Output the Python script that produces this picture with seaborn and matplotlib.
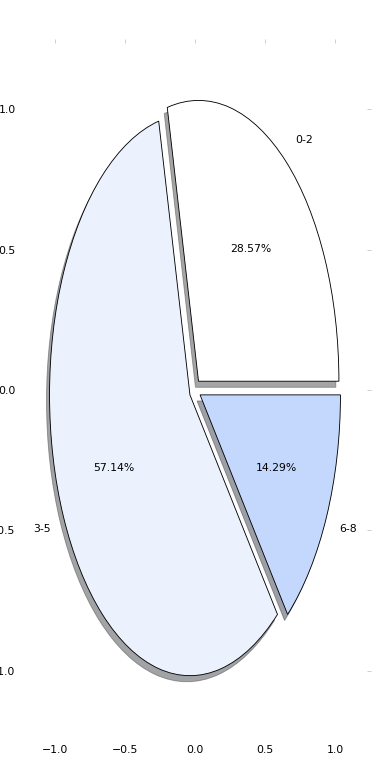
import numpy as np
import pandas as pd
import seaborn as sns
import matplotlib.pyplot as plt

# Données
groupes = ['0-2', '3-5', '6-8']
effectifs = [2, 4, 1]
couleurs = ['#ffffff', '#ebf1fd', '#c4d8fe']
ecarts = [0.04, 0.04, 0.04]

df = pd.DataFrame({'Groupe': groupes, 'Effectif': effectifs})

# %%
sns.set_style('white')
plt.rcParams['font.family'] = ['DejaVu Sans']

fig, ax = plt.subplots(figsize=(5, 10), dpi=78)
fig.subplots_adjust(left=0.05, right=0.95, bottom=0.05, top=0.95)

ax.pie(df['Effectif'], labels=df['Groupe'], colors=couleurs, explode=ecarts,
       autopct='%.2f%%', shadow=True, frame=True,
       wedgeprops={'edgecolor': 'black', 'linewidth': 0.8},
       textprops={'fontsize': 10, 'color': 'black'})

ax.set_aspect('auto')
ax.set_xlim(-1.25, 1.25)
ax.set_ylim(-1.25, 1.25)
ax.set_xticks([-1.0, -0.5, 0.0, 0.5, 1.0])
ax.set_yticks([-1.0, -0.5, 0.0, 0.5, 1.0])
ax.tick_params(direction='in', top=True, right=True, length=3.5,
               color='#c8c8c8', labelcolor='black', labelsize=10)
for s in ax.spines.values():
    s.set_visible(False)

plt.savefig('out.png', dpi=78)
